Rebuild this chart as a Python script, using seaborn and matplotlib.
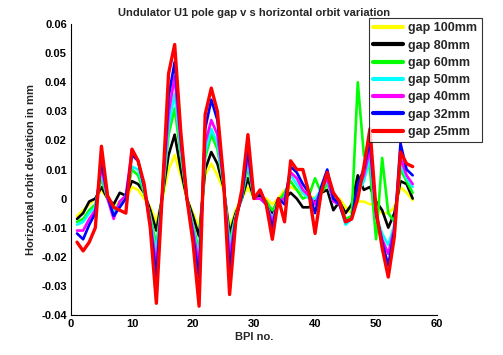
import matplotlib
matplotlib.use("Agg")
import matplotlib.pyplot as plt
import numpy as np
import pandas as pd
import seaborn as sns

BPI = list(range(1, 57))

GAP_LABELS = ["gap 100mm", "gap 80mm", "gap 60mm", "gap 50mm", "gap 40mm", "gap 32mm", "gap 25mm"]
COLORS = ["#FFFF00", "#000000", "#00FF00", "#00FFFF", "#FF00FF", "#0000FF", "#FF0000"]

gap_100 = [-.006, -.004, -.002, .000, .003, .000, -.003, -.001, .000, .004,
           .003, .000, -.003, -.008, .000, .010, .015, .008, .000, -.005,
           -.010, .008, .012, .008, .003, -.010, -.004, .000, .004, .000,
           .000, .000, -.002, .000, .003, .004, .003, .002, .001, .000,
           .002, .003, .000, .000, -.003, -.005, -.001, -.001, -.002, -.002,
           -.005, -.005, -.003, .004, .002, -.0005]
gap_80 = [-.007, -.005, -.001, .000, .004, .000, -.002, .002, .001, .006,
          .005, .002, -.004, -.011, .001, .015, .022, .010, .000, -.006,
          -.013, .010, .016, .012, .004, -.012, -.005, .000, .007, .000,
          .001, -.001, -.005, .000, .000, .002, .000, -.003, -.003, -.001,
          .002, .003, -.004, -.001, -.005, -.002, .008, .003, .004, -.001,
          -.004, -.010, -.005, .006, .005, .000]
gap_60 = [-.008, -.007, -.004, -.002, .007, .000, -.005, -.002, .000, .010,
          .008, .002, -.006, -.016, .001, .022, .031, .015, .000, -.009,
          -.018, .014, .022, .017, .005, -.015, -.006, .000, .011, .000,
          .000, -.001, -.004, -.001, .002, .006, .003, .000, .001, .007,
          .002, .005, .000, -.001, -.007, -.006, .040, .015, .010, -.014,
          .014, -.005, -.008, .010, .006, .002]
gap_50 = [-.009, -.008, -.005, -.003, .009, .000, -.005, -.001, .001, .011,
          .010, .003, -.007, -.019, .002, .025, .036, .017, .000, -.010,
          -.020, .016, .024, .019, .005, -.017, -.006, .001, .013, .000,
          .000, -.002, -.007, -.001, .000, .008, .005, .002, .000, .000,
          .003, .006, -.001, -.002, -.009, -.007, .002, .006, .014, -.006,
          -.012, -.016, -.009, .012, .007, .004]
gap_40 = [-.011, -.011, -.007, -.004, .011, .000, -.007, -.001, .001, .017,
          .013, .004, -.008, -.023, .002, .029, .042, .019, .000, -.011,
          -.023, .019, .027, .022, .006, -.020, -.007, .001, .015, .000,
          .000, -.002, -.008, -.001, .000, .009, .007, .003, .001, -.002,
          .003, .007, -.001, -.002, -.008, -.007, .003, .008, .017, -.006,
          -.014, -.019, -.010, .014, .008, .005]
gap_32 = [-.012, -.014, -.009, -.005, .013, .001, -.006, -.003, .000, .015,
          .013, .004, -.009, -.027, .003, .035, .047, .021, .000, -.013,
          -.027, .024, .034, .027, .006, -.025, -.007, .001, .017, .000,
          .002, -.002, -.010, .000, -.002, .011, .009, .005, .002, -.005,
          .004, .010, .000, -.002, -.008, -.007, .005, .010, .020, -.005,
          -.015, -.023, -.011, .019, .010, .008]
gap_25 = [-.015, -.018, -.015, -.010, .018, .001, -.003, -.004, -.005, .017,
          .013, .005, -.010, -.036, .003, .043, .053, .023, .000, -.015,
          -.037, .029, .038, .030, .007, -.033, -.008, .003, .022, .000,
          .003, -.002, -.014, .000, -.008, .013, .010, .010, .002, -.012,
          .002, .009, .002, -.001, -.008, -.007, .000, .011, .024, -.004,
          -.017, -.027, -.013, .016, .012, .011]

SERIES = [gap_100, gap_80, gap_60, gap_50, gap_40, gap_32, gap_25]


def main():
    frames = []
    for label, values in zip(GAP_LABELS, SERIES):
        frames.append(pd.DataFrame({"BPI": BPI, "dev": values, "gap": label}))
    df = pd.concat(frames, ignore_index=True)

    sns.set_theme(style="white")
    plt.rcParams["font.family"] = ["Liberation Sans", "DejaVu Sans"]
    plt.rcParams["font.weight"] = "bold"

    fig = plt.figure(figsize=(5.03, 3.55), dpi=100)
    ax = fig.add_axes([0.141, 0.113, 0.728, 0.819])

    sns.lineplot(
        data=df,
        x="BPI",
        y="dev",
        hue="gap",
        hue_order=GAP_LABELS,
        palette=dict(zip(GAP_LABELS, COLORS)),
        linewidth=1.9,
        legend=False,
        ax=ax,
    )
    # the 25 mm trace is drawn a bit heavier in the original
    ax.lines[-1].set_linewidth(2.4)

    ax.set_xlim(0, 60)
    ax.set_ylim(-0.04, 0.06)
    ax.set_xticks(np.arange(0, 61, 10))
    ax.set_yticks(np.round(np.arange(-0.04, 0.061, 0.01), 2))
    ax.set_yticklabels(["-0.04", "-0.03", "-0.02", "-0.01", "0", "0.01", "0.02", "0.03", "0.04", "0.05", "0.06"])
    ax.tick_params(direction="in", length=3, width=0.8, labelsize=8, colors="black", pad=3)
    for lab in ax.get_xticklabels() + ax.get_yticklabels():
        lab.set_fontweight("bold")
    for side in ["top", "right"]:
        ax.spines[side].set_visible(False)
    for side in ["left", "bottom"]:
        ax.spines[side].set_color("black")
        ax.spines[side].set_linewidth(0.8)

    ax.set_xlabel("BPI no.", fontsize=8, fontweight="bold", labelpad=2)
    ax.set_ylabel("Horizontal orbit deviation in mm", fontsize=8, fontweight="bold", labelpad=4)
    ax.set_title("Undulator U1 pole gap v s horizontal orbit variation", fontsize=8, fontweight="bold", pad=6)

    handles = [plt.Line2D([], [], color=c, linewidth=3) for c in COLORS]
    leg = fig.legend(
        handles,
        GAP_LABELS,
        loc="upper right",
        bbox_to_anchor=(0.958, 0.949),
        frameon=True,
        fancybox=False,
        edgecolor="black",
        fontsize=9,
        handlelength=2.4,
        handletextpad=0.4,
        labelspacing=0.42,
        borderpad=0.35,
        borderaxespad=0,
    )
    leg.get_frame().set_linewidth(0.8)
    for t in leg.get_texts():
        t.set_fontweight("bold")

    fig.savefig("out.png", dpi=100, facecolor="white")


if __name__ == "__main__":
    main()
